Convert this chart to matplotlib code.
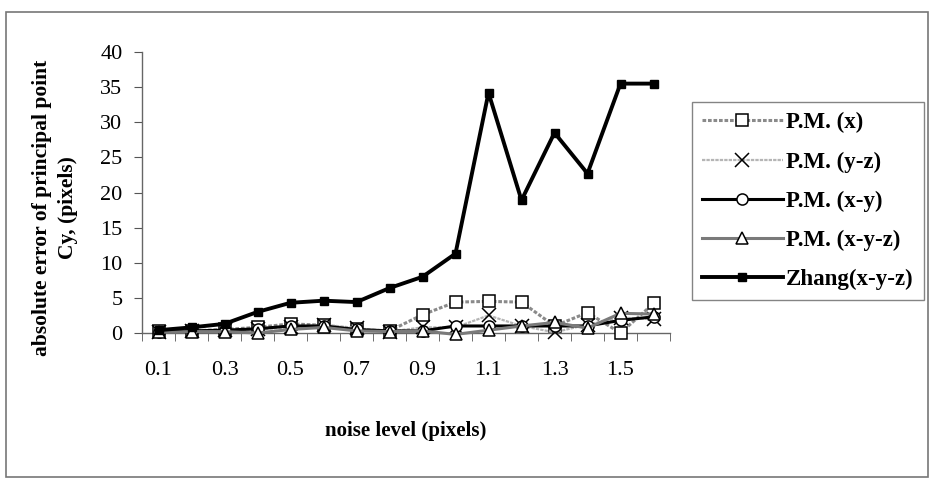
import numpy as np
import matplotlib
matplotlib.use("Agg")
import matplotlib.pyplot as plt
from matplotlib.patches import Rectangle

# Data
noise_levels = ["0.1", "0.2", "0.3", "0.4", "0.5", "0.6", "0.7", "0.8",
                "0.9", "1.0", "1.1", "1.2", "1.3", "1.4", "1.5", "1.6"]
pm_x = [0.3, 0.3, 0.5, 0.8, 1.3, 1.1, 0.5, 0.3, 2.6, 4.4, 4.5, 4.4, 1.0, 2.9, 0.0, 4.2]
pm_yz = [0.2, 0.3, 0.4, 0.5, 0.8, 1.2, 0.7, 0.2, 0.8, 0.8, 2.5, 1.0, 0.1, 1.2, 2.2, 2.0]
pm_xy = [0.2, 0.3, 0.4, 0.6, 1.0, 1.0, 0.5, 0.3, 0.3, 1.0, 1.0, 1.0, 1.0, 1.0, 1.8, 2.3]
pm_xyz = [0.1, 0.2, 0.2, 0.0, 0.5, 0.8, 0.3, 0.2, 0.3, -0.2, 0.4, 1.0, 1.5, 0.7, 2.8, 2.7]
zhang = [0.4, 0.8, 1.3, 3.0, 4.3, 4.6, 4.4, 6.4, 8.0, 11.3, 34.2, 18.9, 28.5, 22.7, 35.5, 35.5]

plt.rcParams["font.family"] = ["Liberation Serif", "DejaVu Serif"]

fig = plt.figure(figsize=(9.32, 4.8), dpi=100)
ax = fig.add_axes([142 / 932, 1 - 333 / 480, (670 - 142) / 932, (333 - 52) / 480])

x = np.arange(1, len(noise_levels) + 1)

ax.plot(x, pm_x, color="#8a8a8a", lw=2.2, ls=(0, (1.2, 0.6)), marker="s", ms=8,
        mfc="white", mec="black", mew=1.1, label="P.M. (x)", clip_on=False, zorder=3)
ax.plot(x, pm_yz, color="#b5b5b5", lw=1.6, ls=(0, (1.5, 0.5)), marker="x", ms=10,
        mec="black", mew=1.1, label="P.M. (y-z)", clip_on=False, zorder=3)
ax.plot(x, pm_xy, color="black", lw=2.2, marker="o", ms=8,
        mfc="white", mec="black", mew=1.1, label="P.M. (x-y)", clip_on=False, zorder=3)
ax.plot(x, pm_xyz, color="#7a7a7a", lw=2.2, marker="^", ms=9,
        mfc="white", mec="black", mew=1.1, label="P.M. (x-y-z)", clip_on=False, zorder=3)
ax.plot(x, zhang, color="black", lw=2.8, marker="s", ms=6,
        mfc="black", mec="black", label="Zhang(x-y-z)", clip_on=False, zorder=4)

ax.set_xlim(0.5, len(noise_levels) + 0.5)
ax.set_ylim(0, 40)
ax.set_yticks(range(0, 41, 5))
ax.set_xticks(x[::2])
ax.set_xticklabels(noise_levels[::2])
ax.set_xticks(np.arange(0.5, len(noise_levels) + 1), minor=True)
ax.tick_params(axis="x", which="major", length=0, pad=20, labelsize=16)
ax.tick_params(axis="x", which="minor", length=6, direction="out", color="#555555")
ax.tick_params(axis="y", length=6, direction="out", color="#555555", labelsize=16, pad=8)

for side in ["top", "right"]:
    ax.spines[side].set_visible(False)
for side in ["left", "bottom"]:
    ax.spines[side].set_color("#666666")
    ax.spines[side].set_linewidth(1.0)

ax.set_ylabel("absolute error of principal point\nCy, (pixels)", fontsize=15.5,
              fontweight="bold", linespacing=1.35)
ax.yaxis.set_label_coords(-0.122, 0.445)
ax.set_xlabel("noise level (pixels)", fontsize=15, fontweight="bold", labelpad=30)

leg = fig.legend(loc="upper left", bbox_to_anchor=(692 / 932, 1 - 102 / 480),
                 prop={"weight": "bold", "size": 16.5}, frameon=True, fancybox=False,
                 handlelength=3.5, borderpad=0.45, labelspacing=0.78, handletextpad=0.15,
                 borderaxespad=0)
leg.get_frame().set_edgecolor("#666666")
leg.get_frame().set_linewidth(1.0)

# outer chart border
fig.patches.append(Rectangle((6 / 932, 3 / 480), 922 / 932, 465 / 480,
                             transform=fig.transFigure, fill=False,
                             edgecolor="#777777", lw=1.2))

fig.savefig("out.png", dpi=100)
